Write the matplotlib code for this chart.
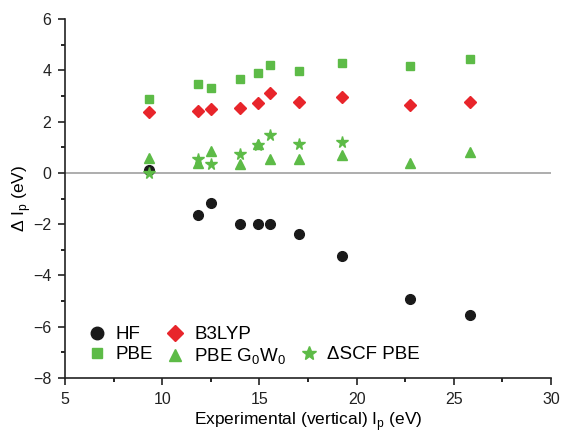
import matplotlib.pyplot as plt
from matplotlib.lines import Line2D
from matplotlib.ticker import MultipleLocator

plt.rcParams['font.family'] = ['Liberation Sans', 'DejaVu Sans']

exp_ip = [9.33, 11.82, 12.51, 14.02, 14.91, 15.53, 17.03, 19.23, 22.75, 25.84]
hf = [0.13, -1.64, -1.18, -2.0, -2.0, -2.0, -2.37, -3.24, -4.93, -5.56]
b3lyp = [2.39, 2.43, 2.5, 2.54, 2.72, 3.11, 2.76, 2.97, 2.64, 2.76]
pbe = [2.89, 3.48, 3.33, 3.67, 3.9, 4.2, 3.97, 4.28, 4.17, 4.45]
pbe_gw = [0.59, 0.38, 0.87, 0.36, 1.13, 0.53, 0.53, 0.69, 0.40, 0.82]
# delta SCF only for the first eight molecules
dscf_x = exp_ip[:8]
dscf = [0.0, 0.55, 0.36, 0.74, 1.07, 1.48, 1.13, 1.21]

black = '#1a1a1a'
red = '#e8252b'
green = '#5dbb47'

fig = plt.figure(figsize=(5.61, 4.33), dpi=100)
ax = fig.add_axes([0.116, 0.127, 0.866, 0.829])

ax.axhline(0, color='#a0a0a0', lw=1.2, zorder=1)
ax.plot(exp_ip, hf, 'o', color=black, ms=7, ls='none', zorder=3)
ax.plot(exp_ip, b3lyp, 'D', color=red, ms=6.5, ls='none', zorder=3)
ax.plot(exp_ip, pbe, 's', color=green, ms=6, ls='none', zorder=3)
ax.plot(exp_ip, pbe_gw, '^', color=green, ms=7.5, ls='none', zorder=3)
ax.plot(dscf_x, dscf, '*', color=green, ms=8.5, ls='none', zorder=3)

ax.set_xlim(5, 30)
ax.set_ylim(-8, 6)
ax.xaxis.set_major_locator(MultipleLocator(5))
ax.xaxis.set_minor_locator(MultipleLocator(2.5))
ax.yaxis.set_major_locator(MultipleLocator(2))
ax.yaxis.set_minor_locator(MultipleLocator(1))
ax.tick_params(which='major', direction='out', length=5, width=1.2, labelsize=11.5,
               colors='#222222', pad=5)
ax.tick_params(which='minor', direction='out', length=3, width=1.2)
for s in ['top', 'right']:
    ax.spines[s].set_visible(False)
for s in ['left', 'bottom']:
    ax.spines[s].set_linewidth(1.2)
    ax.spines[s].set_color('#222222')

ax.set_xlabel('Experimental (vertical) I$_\\mathregular{p}$ (eV)', fontsize=12.5, labelpad=2)
ax.set_ylabel('Δ I$_\\mathregular{p}$ (eV)', fontsize=12.5, labelpad=0)

handles = [
    Line2D([], [], marker='o', color=black, ls='none', ms=9),
    Line2D([], [], marker='s', color=green, ls='none', ms=7),
    Line2D([], [], marker='D', color=red, ls='none', ms=8),
    Line2D([], [], marker='^', color=green, ls='none', ms=9),
    Line2D([], [], ls='none'),
    Line2D([], [], marker='*', color=green, ls='none', ms=10),
]
labels = ['HF', 'PBE', 'B3LYP', 'PBE G$_\\mathregular{0}$W$_\\mathregular{0}$', '', 'ΔSCF PBE']
ax.legend(handles, labels, ncol=3, loc='lower left', bbox_to_anchor=(0.007, -0.015),
          frameon=False, fontsize=13.5, handletextpad=0.4, columnspacing=0.6,
          labelspacing=0.15, handlelength=1.2)

fig.savefig('out.png')
